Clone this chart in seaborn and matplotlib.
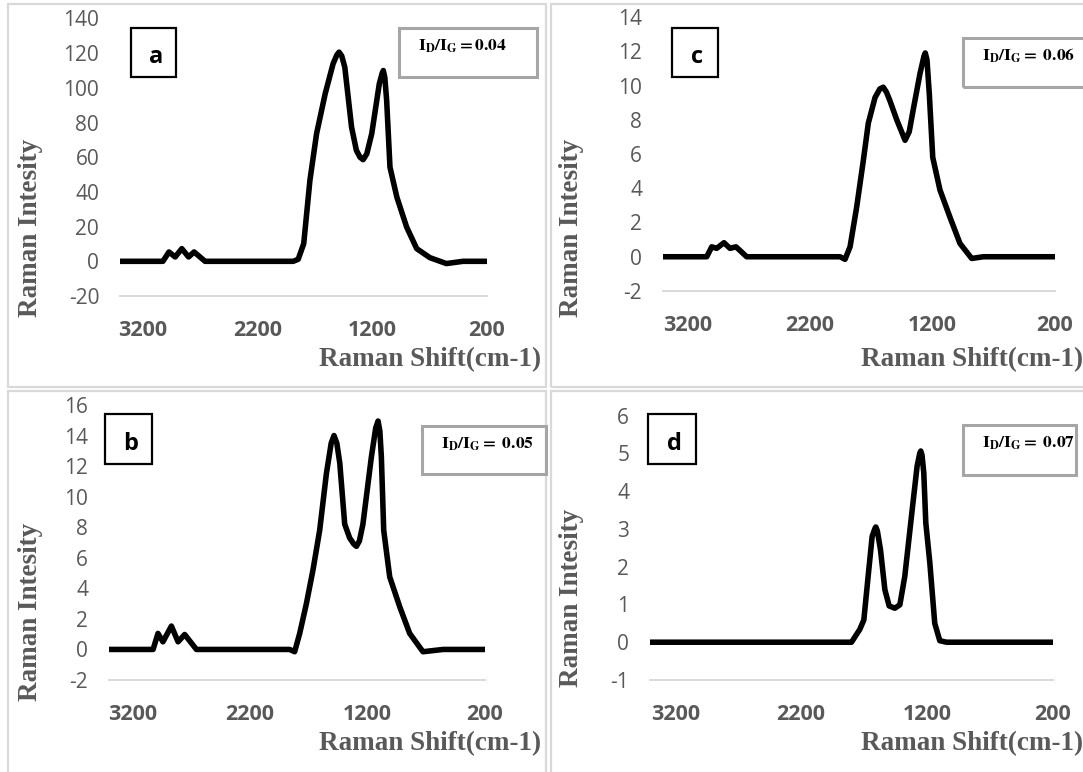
import numpy as np
import pandas as pd
import matplotlib.pyplot as plt
import seaborn as sns
from matplotlib.patches import Rectangle

# Raman spectra (shift in cm-1, intensity)
shift_a = [3400, 3026, 2973, 2919, 2861, 2802, 2754, 2658, 1889, 1846, 1798, 1744, 1686, 1611,
           1542, 1509, 1490, 1467, 1440, 1381, 1339, 1307, 1280, 1248, 1205, 1139, 1114, 1104,
           1091, 1075, 1046, 986, 901, 813, 698, 554, 409, 200]
int_a = [0, 0, 5.4, 2.5, 7.3, 2.5, 5.4, 0, 0, 1.2, 10.2, 46.7, 73.6, 96.6,
         113.9, 119.0, 120.6, 118.5, 112, 77.4, 64, 60, 58.6, 62, 73.6, 102.4, 108.5, 110,
         106, 92.8, 54.3, 37, 19.8, 7.3, 2.1, -1.3, 0, 0]

shift_b = [3400, 3025, 2983, 2941, 2869, 2812, 2756, 2656, 1863, 1820, 1777, 1720, 1664, 1607,
           1550, 1509, 1485, 1461, 1436, 1394, 1352, 1317, 1294, 1269, 1239, 1167, 1130, 1110,
           1095, 1082, 1062, 1011, 926, 841, 728, 557, 200]
int_b = [0, 0, 1.05, 0.5, 1.53, 0.5, 0.98, 0, 0, -0.15, 1.05, 3.0, 5.2, 7.8,
         11.5, 13.5, 14.0, 13.5, 12.2, 8.2, 7.3, 6.9, 6.75, 7.1, 8.2, 12.6, 14.5, 14.95,
         14.3, 12.6, 7.8, 4.75, 2.8, 1.05, -0.15, 0, 0]

shift_c = [3400, 3043, 3002, 2962, 2902, 2853, 2804, 2717, 1955, 1914, 1873, 1819, 1765, 1724,
           1669, 1630, 1602, 1575, 1547, 1492, 1424, 1390, 1357, 1302, 1270, 1259, 1245, 1226,
           1198, 1139, 1057, 976, 880, 785, 200]
int_c = [0, 0, 0.58, 0.49, 0.82, 0.49, 0.58, 0, 0, -0.15, 0.58, 2.9, 5.6, 7.8,
         9.3, 9.8, 9.9, 9.6, 9.1, 8.0, 6.8, 7.3, 8.6, 10.7, 11.7, 11.9, 11.5, 9.5,
         5.8, 3.9, 2.3, 0.78, -0.1, 0, 0]

shift_d = [3400, 1839, 1800, 1734, 1702, 1668, 1636, 1615, 1607, 1595, 1570, 1535, 1501, 1456,
           1416, 1377, 1324, 1279, 1258, 1250, 1240, 1226, 1210, 1178, 1139, 1099, 1046, 200]
int_d = [0, 0, 0, 0.34, 0.59, 1.74, 2.8, 3.0, 3.05, 2.95, 2.45, 1.39, 0.96, 0.9,
         0.99, 1.74, 3.33, 4.66, 5.0, 5.06, 4.95, 4.48, 3.16, 2.1, 0.5, 0.04, 0, 0]

labels = ["a", "b", "c", "d"]
ratios = ["0.04", "0.05", "0.06", "0.07"]
y_limits = [(-20, 140, 20), (-2, 16, 2), (-2, 14, 2), (-1, 6, 1)]
x_ticks = [3200, 2200, 1200, 200]

W, H = 1083, 772
GRAY = "#595959"

sns.set_theme(style="white")
plt.rcParams["font.family"] = ["Open Sans", "DejaVu Sans"]
plt.rcParams["mathtext.fontset"] = "stix"
plt.rcParams["axes.unicode_minus"] = False

fig = plt.figure(figsize=(W / 100, H / 100), dpi=100)


def fx(x):
    return x / W


def fy(y):
    return 1 - y / H


def add_rect(x0, y0, x1, y1, **kw):
    fig.add_artist(Rectangle((fx(x0), fy(y1)), fx(x1) - fx(x0), fy(y0) - fy(y1),
                             transform=fig.transFigure, fill=False, **kw))


# table cell borders around the four panels
for (x0, y0, x1, y1) in [(8, 4, 546, 387), (551, 4, 1095, 387),
                         (8, 391, 546, 790), (551, 391, 1095, 790)]:
    add_rect(x0, y0, x1, y1, edgecolor="#d9d9d9", linewidth=1.6)

# pixel layout of each panel: plot box, label box, ratio box, axis-label spots
layout = {
    "a": dict(plot=(120, 18.5, 487, 296), lab=(131, 28, 176, 77), box=(399, 28, 537, 77),
              xlab=(541, 360), ylab=(31, 228)),
    "b": dict(plot=(109, 405, 485, 680), lab=(105, 414, 152, 464), box=(422, 426, 546, 474),
              xlab=(541, 744), ylab=(31, 612)),
    "c": dict(plot=(663, 17, 1055, 291), lab=(672, 28, 718, 77), box=(963, 38, 1095, 87),
              xlab=(1083, 360), ylab=(572, 228)),
    "d": dict(plot=(650, 415.5, 1053, 680), lab=(648, 414, 696, 464), box=(963, 425, 1076, 475),
              xlab=(1083, 744), ylab=(572, 598)),
}

series = {"a": (shift_a, int_a), "b": (shift_b, int_b),
          "c": (shift_c, int_c), "d": (shift_d, int_d)}

for lab, ratio, (ymin, ymax, step) in zip(labels, ratios, y_limits):
    lay = layout[lab]
    l, t, r, b = lay["plot"]
    ax = fig.add_axes([fx(l), fy(b), fx(r) - fx(l), fy(t) - fy(b)])
    df = pd.DataFrame({"shift": series[lab][0], "intensity": series[lab][1]})
    sns.lineplot(data=df, x="shift", y="intensity", sort=False, color="black",
                 linewidth=4.0, ax=ax, solid_capstyle="round", solid_joinstyle="round")
    ax.set_xlim(3400, 200)
    ax.set_ylim(ymin, ymax)
    ax.set_xticks(x_ticks)
    ax.set_yticks(np.arange(ymin, ymax + step, step))
    ax.set_xlabel("")
    ax.set_ylabel("")
    ax.patch.set_alpha(0)
    for s in ["top", "right", "left"]:
        ax.spines[s].set_visible(False)
    ax.spines["bottom"].set_color("#d9d9d9")
    ax.spines["bottom"].set_linewidth(1.4)
    ax.tick_params(axis="x", length=0, pad=17, labelsize=15.5, labelcolor=GRAY)
    ax.tick_params(axis="y", length=0, pad=15, labelsize=15, labelcolor=GRAY)
    for tl in ax.get_xticklabels():
        tl.set_fontweight("bold")

    # axis titles
    fig.text(fx(lay["xlab"][0]), fy(lay["xlab"][1]), "Raman Shift(cm-1)", ha="right", va="center",
             family="Liberation Serif", fontweight="bold", fontsize=19.5, color=GRAY)
    fig.text(fx(lay["ylab"][0]), fy(lay["ylab"][1]), "Raman Intesity", ha="center", va="center",
             rotation=90, family="Liberation Serif", fontweight="bold", fontsize=19.5, color=GRAY)

    # panel letter box
    x0, y0, x1, y1 = lay["lab"]
    add_rect(x0, y0, x1, y1, edgecolor="black", linewidth=1.6)
    fig.text(fx(x0 + 0.55 * (x1 - x0)), fy(y0 + 0.6 * (y1 - y0)), lab, ha="center", va="center",
             fontweight="bold", fontsize=17, color="black")

    # I_D/I_G box
    x0, y0, x1, y1 = lay["box"]
    add_rect(x0, y0, x1, y1, edgecolor="#a6a6a6", linewidth=2.2)
    if lab == "a":
        txt = r"$\mathbf{I_D/I_G = " + ratio + "}$"
    else:
        txt = r"$\mathbf{I_D/I_G{=}\ " + ratio + "}$"
    fig.text(fx(x0 + 19), fy(y0 + 18), txt, ha="left", va="center", fontsize=12.5, color="black")

fig.savefig("out.png", dpi=100)
